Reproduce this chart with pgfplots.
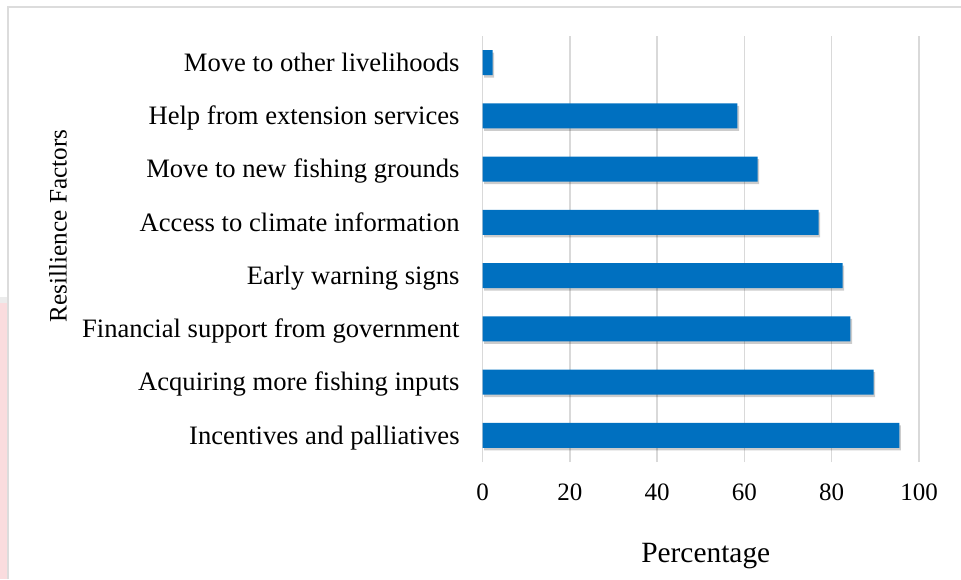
\documentclass[border=0pt]{standalone}
\usepackage{pgfplots}
\pgfplotsset{compat=1.18}
\usetikzlibrary{shadows}
\usepackage{fontspec}
\setmainfont{Liberation Serif}

\definecolor{barblue}{HTML}{0070C0}
\definecolor{gridgray}{HTML}{D9D9D9}
\definecolor{framegray}{HTML}{DCDCDC}
\definecolor{pinkish}{HTML}{FADCDE}

\begin{document}
\begin{tikzpicture}
\fontsize{12.5}{15}\selectfont
% page size and the outer frame of the original figure
\path[use as bounding box] (0,0) rectangle (480.5pt,289.5pt);
\fill[pinkish] (0,0) rectangle (3.5pt,138pt);
\fill[gray!15] (0,138pt) rectangle (3.5pt,141pt);
\draw[framegray, line width=0.8pt] (4pt,0) -- (4pt,286pt) -- (480.5pt,286pt);

\begin{axis}[
    at={(241.25pt,58.5pt)},
    anchor=south west,
    scale only axis,
    width=218.25pt,
    height=213pt,
    xbar,
    bar width=12.5pt,
    xmin=0, xmax=100,
    ymin=-0.5, ymax=7.5,
    xtick={0,20,40,60,80,100},
    ytick={0,...,7},
    yticklabels={
        Incentives and palliatives,
        Acquiring more fishing inputs,
        Financial support from government,
        Early warning signs,
        Access to climate information,
        Move to new fishing grounds,
        Help from extension services,
        Move to other livelihoods},
    xmajorgrids=true,
    grid style={gridgray, line width=0.75pt},
    axis line style={draw=none},
    tick style={draw=none},
    /pgf/number format/assume math mode=true,
    xticklabel style={font=\fontsize{12.5}{15}\selectfont, inner sep=0pt, anchor=north, yshift=-10.5pt},
    yticklabel style={font=\fontsize{13.3}{16}\selectfont, inner sep=0pt, anchor=base east, xshift=-7pt, yshift=-4.35pt},
    xlabel={Percentage},
    ylabel={Resillience Factors},
    xlabel style={font=\fontsize{14.7}{17}\selectfont, at={(axis description cs:0.5,0)}, anchor=north, inner sep=0pt, yshift=-40.5pt, xshift=2.5pt},
    ylabel style={font=\fontsize{12.6}{15}\selectfont, at={(axis description cs:-0.953,0.554)}, rotate=0, anchor=base, inner sep=0pt},
]
\addplot[fill=barblue, draw=none,
    drop shadow={shadow xshift=0.8pt, shadow yshift=-1.2pt, opacity=0.2, fill=black}]
    coordinates {
    (95.5,0)
    (89.6,1)
    (84.3,2)
    (82.5,3)
    (77.0,4)
    (63.0,5)
    (58.4,6)
    (2.3,7)
};
\end{axis}
\end{tikzpicture}
\end{document}
